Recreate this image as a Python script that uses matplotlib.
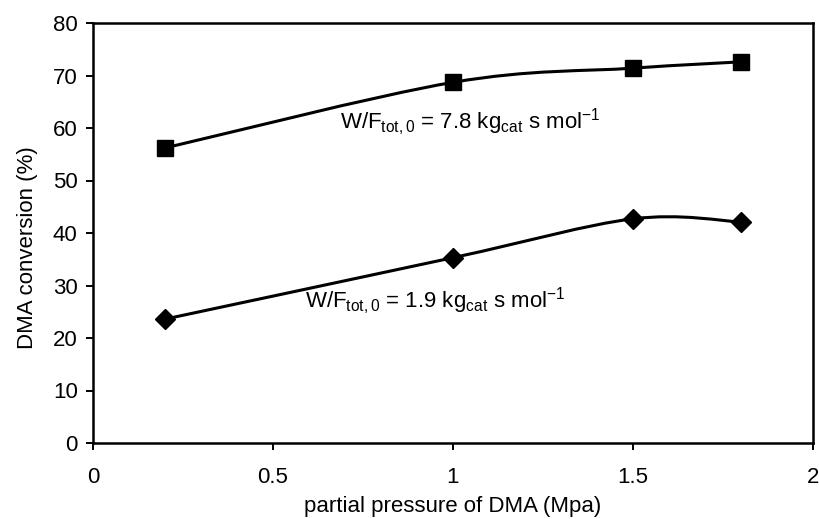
import numpy as np
import matplotlib
matplotlib.use("Agg")
import matplotlib.pyplot as plt
from matplotlib.path import Path
from matplotlib.patches import PathPatch

plt.rcParams['font.family'] = ['Liberation Sans', 'DejaVu Sans']
plt.rcParams['mathtext.fontset'] = 'custom'
plt.rcParams['mathtext.rm'] = 'Liberation Sans'
plt.rcParams['mathtext.it'] = 'Liberation Sans'

# data
pressure = [0.2, 1.0, 1.5, 1.8]
conv_high = [56.2, 68.7, 71.4, 72.6]   # W/F = 7.8
conv_low = [23.6, 35.3, 42.7, 42.1]    # W/F = 1.9


def smooth_path(xs, ys):
    """Excel-style smoothed line as a cubic Bezier path through the points."""
    pts = np.column_stack([xs, ys]).astype(float)
    n = len(pts)
    verts = [pts[0]]
    codes = [Path.MOVETO]
    for i in range(n - 1):
        p0 = pts[max(i - 1, 0)]
        p1 = pts[i]
        p2 = pts[i + 1]
        p3 = pts[min(i + 2, n - 1)]
        c1 = p1 + (p2 - p0) / 6.0
        c2 = p2 - (p3 - p1) / 6.0
        verts += [c1, c2, p2]
        codes += [Path.CURVE4] * 3
    return Path(verts, codes)


fig = plt.figure(figsize=(8.19, 5.19), dpi=100)
ax = fig.add_axes([93 / 819, 1 - 443 / 519, 720 / 819, 420 / 519])

for ys, mk, ms in [(conv_high, 's', 12), (conv_low, 'D', 10)]:
    ax.add_patch(PathPatch(smooth_path(pressure, ys), facecolor='none',
                           edgecolor='black', lw=2.2, zorder=2))
    ax.plot(pressure, ys, linestyle='none', marker=mk, markersize=ms,
            color='black', zorder=3)

ax.text(0.685, 61.0, r'W/F$_{\mathrm{tot,0}}$ = 7.8 kg$_{\mathrm{cat}}$ s mol$^{\mathrm{-1}}$',
        fontsize=16, va='center', ha='left')
ax.text(0.59, 27.0, r'W/F$_{\mathrm{tot,0}}$ = 1.9 kg$_{\mathrm{cat}}$ s mol$^{\mathrm{-1}}$',
        fontsize=16, va='center', ha='left')

ax.set_xlim(0, 2)
ax.set_ylim(0, 80)
ax.set_xticks([0, 0.5, 1, 1.5, 2])
ax.set_xticklabels(['0', '0.5', '1', '1.5', '2'])
ax.set_yticks(range(0, 81, 10))
ax.tick_params(direction='out', length=5, width=1.4, labelsize=16)
ax.tick_params(axis='x', pad=12)
ax.tick_params(axis='y', pad=6)
for s in ax.spines.values():
    s.set_linewidth(1.8)

ax.set_xlabel('partial pressure of DMA (Mpa)', fontsize=16)
ax.set_ylabel('DMA conversion (%)', fontsize=16)
ax.xaxis.set_label_coords(0.5, -0.127)
ax.yaxis.set_label_coords(-0.077, 0.464)

fig.savefig('out.png', dpi=100)
